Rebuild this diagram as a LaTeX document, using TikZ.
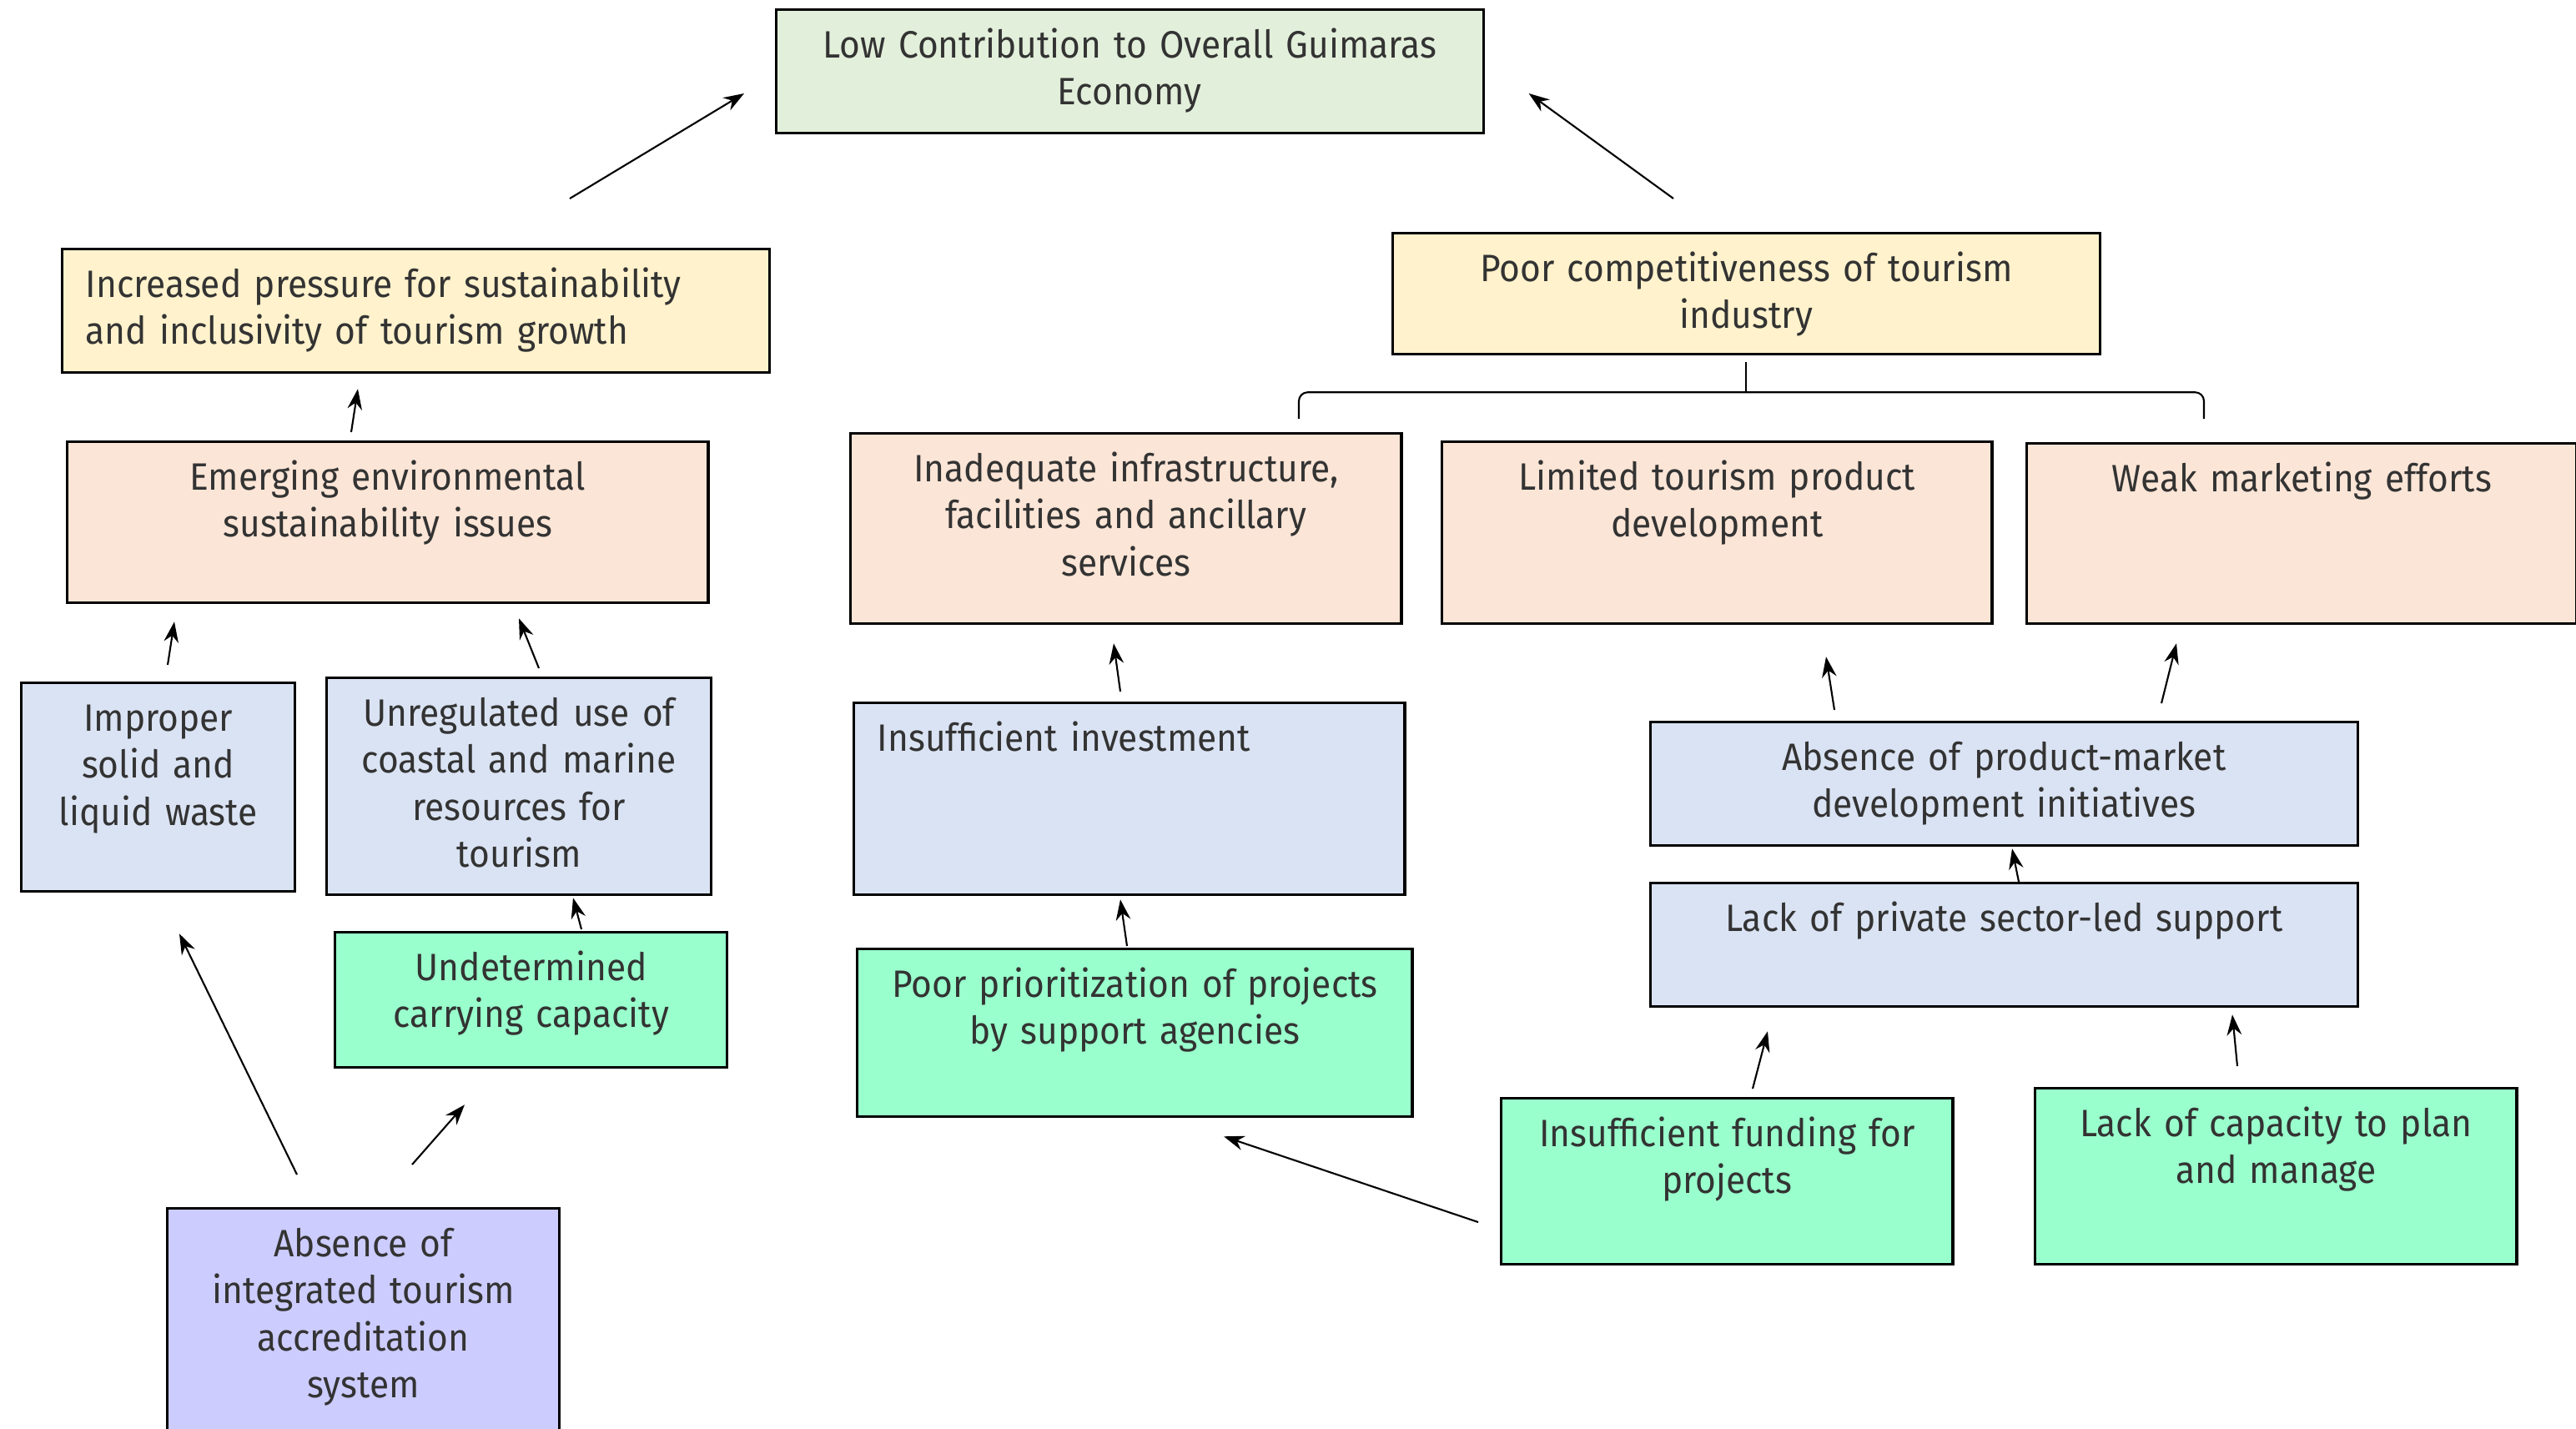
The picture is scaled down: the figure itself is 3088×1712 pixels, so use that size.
\documentclass[tikz,border=0pt]{standalone}
\usepackage{fontspec}
\setmainfont[FakeStretch=0.93]{Fira Sans}
\usetikzlibrary{arrows.meta,calc}

\definecolor{cGreen}{HTML}{E2EFDA}
\definecolor{cYellow}{HTML}{FFF2CC}
\definecolor{cPeach}{HTML}{FBE5D6}
\definecolor{cBlue}{HTML}{DAE3F3}
\definecolor{cMint}{HTML}{99FFCC}
\definecolor{cLilac}{HTML}{CCCCFF}
\definecolor{cText}{HTML}{333333}

\tikzstyle{box} = [draw, line width=0.9pt, anchor=north west, inner xsep=3pt, inner ysep=6.5pt, text height=10pt, align=center, text=cText, font=\fontsize{13}{16}\selectfont]
\tikzstyle{arr} = [-{Stealth[length=7pt,width=5pt]}, line width=0.6pt]
\tikzset{sz/.style 2 args={text width=#1cm-6pt, text depth=#2cm-23pt},
         szl/.style 2 args={inner xsep=8pt, align=left, text width=#1cm-16pt, text depth=#2cm-23pt}}

\begin{document}
\begin{tikzpicture}[x=0.01cm,y=-0.01cm]
\useasboundingbox (0,0) rectangle (3088,1712);

% top level
\node[box, sz={8.47}{1.48}, fill=cGreen] (low) at (929,10) {Low Contribution to Overall Guimaras\\Economy};
\node[box, szl={8.47}{1.48}, fill=cYellow] (press) at (73,297) {Increased pressure for sustainability\\and inclusivity of tourism growth};
\node[box, sz={8.47}{1.45}, fill=cYellow] (compet) at (1668,278) {Poor competitiveness of tourism\\industry};

% second level
\node[box, sz={7.68}{1.93}, fill=cPeach] (emerg) at (79,528) {Emerging environmental\\sustainability issues};
\node[box, sz={6.60}{2.28}, fill=cPeach] (inadeq) at (1018,518) {Inadequate infrastructure,\\facilities and ancillary\\services};
\node[box, sz={6.59}{2.18}, fill=cPeach] (limited) at (1727,528) {Limited tourism product\\development};
\node[box, sz={6.59}{2.16}, fill=cPeach] (weak) at (2428,530) {Weak marketing efforts};

% causes
\node[box, sz={3.28}{2.50}, fill=cBlue] (improper) at (24,817) {Improper\\solid and\\liquid waste};
\node[box, sz={4.61}{2.60}, fill=cBlue] (unreg) at (390,811) {Unregulated use of\\coastal and marine\\resources for\\tourism};
\node[box, szl={6.60}{2.30}, fill=cBlue] (invest) at (1022,841) {Insufficient investment};
\node[box, sz={8.47}{1.48}, fill=cBlue] (pm) at (1977,864) {Absence of product-market\\development initiatives};
\node[box, sz={8.47}{1.48}, fill=cBlue] (priv) at (1977,1057) {Lack of private sector-led support};

% root causes
\node[box, sz={4.70}{1.62}, fill=cMint] (undet) at (400,1116) {Undetermined\\carrying capacity};
\node[box, sz={6.65}{2.01}, fill=cMint] (prior) at (1026,1136) {Poor prioritization of projects\\by support agencies};
\node[box, sz={5.41}{1.99}, fill=cMint] (fund) at (1798,1315) {Insufficient funding for\\projects};
\node[box, sz={5.77}{2.11}, fill=cMint] (capac) at (2438,1303) {Lack of capacity to plan\\and manage};
\node[box, sz={4.70}{3.00}, fill=cLilac] (accred) at (199,1447) {Absence of\\integrated tourism\\accreditation\\system};

% brace under competitiveness
\draw[line width=0.6pt, rounded corners=3pt] ($(inadeq.north west)+(539,-16)$) |- ($(compet.south)+(0,44)$) -| ($(weak.north west)+(214,-28)$);
\draw[line width=0.6pt] ($(compet.south)+(0,44)$) -- ($(compet.south)+(0,8)$);

% arrows
\draw[arr] ($(press.north west)+(610,-59)$) -- ($(low.north west)+(-37,102)$);
\draw[arr] ($(compet.north west)+(338,-40)$) -- ($(low.north east)+(53,102)$);
\draw[arr] ($(emerg.north west)+(342,-10)$) -- ($(press.south west)+(356,18)$);
\draw[arr] ($(improper.north west)+(177,-20)$) -- ($(emerg.south west)+(130,21)$);
\draw[arr] ($(unreg.north west)+(256,-10)$) -- ($(emerg.south west)+(543,17)$);
\draw[arr] ($(undet.north west)+(297,-2)$) -- ($(unreg.south west)+(297,2)$);
\draw[arr] ($(accred.north west)+(157,-39)$) -- ($(improper.south west)+(191,49)$);
\draw[arr] ($(accred.north west)+(295,-51)$) -- ($(undet.south west)+(157,43)$);
\draw[arr] ($(invest.north west)+(321,-12)$) -- ($(inadeq.south west)+(317,22)$);
\draw[arr] ($(prior.north west)+(325,-2)$) -- ($(invest.south west)+(321,4)$);
\draw[arr] ($(fund.north west)+(-26,150)$) -- ($(prior.south west)+(441,22)$);
\draw[arr] ($(pm.north west)+(222,-13)$) -- ($(limited.south west)+(462,38)$);
\draw[arr] ($(pm.north west)+(614,-21)$) -- ($(weak.south west)+(181,22)$);
\draw[arr] ($(priv.north west)+(443,0)$) -- ($(pm.south west)+(435,2)$);
\draw[arr] ($(fund.north west)+(303,-10)$) -- ($(priv.south west)+(142,28)$);
\draw[arr] ($(capac.north west)+(244,-25)$) -- ($(priv.south west)+(699,8)$);
\end{tikzpicture}
\end{document}
